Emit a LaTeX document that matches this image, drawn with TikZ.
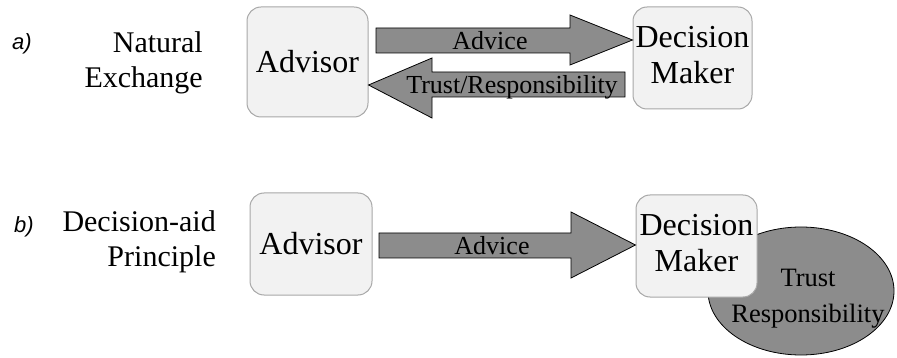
\documentclass[tikz,border=0pt]{standalone}
\usepackage{fontspec}
\setmainfont{Liberation Serif}
\newfontfamily\serf{Liberation Serif}
\newfontfamily\labfont{Liberation Sans}
\usetikzlibrary{calc,shapes.geometric}
\definecolor{boxfill}{HTML}{F2F2F2}
\definecolor{boxline}{HTML}{A8A8A8}
\definecolor{arrfill}{HTML}{8C8C8C}
\newcommand{\dbl}[3]{\scalebox{2}{\serf\fontsize{#1}{#2}\selectfont\begin{tabular}{@{}c@{}}#3\end{tabular}}}
\newcommand{\one}[2]{\scalebox{2}{\serf\fontsize{#1}{#1}\selectfont #2}}
\tikzset{
  agent/.style={draw=boxline, line width=1pt, fill=boxfill, rounded corners=14pt, inner sep=0pt, align=center},
  blockarrow/.style={draw=black, line width=0.8pt, fill=arrfill},
  plain/.style={inner sep=0pt},
  sidelabel/.style={inner sep=0pt, anchor=base east},
  partlabel/.style={font=\labfont\itshape, inner sep=0pt}
}
\begin{document}
\begin{tikzpicture}[x=1pt,y=-1pt]
\useasboundingbox (0,0) rectangle (897,358);
% ---- a) ----
\node[partlabel] (pa) at (22,44) {\scalebox{2}{\fontsize{11}{13}\selectfont a)}};
\node[sidelabel] (na1) at (203,53) {\one{15}{Natural}};
\node[sidelabel] (na2) at (203,88) {\one{15}{Exchange}};
\node[agent, minimum width=121pt, minimum height=110pt] (adv1) at (307.5,62) {\one{16}{Advisor}};
\node[agent, minimum width=119pt, minimum height=102pt] (dm1) at (692.5,58) {\dbl{16}{18}{Decision\\Maker}};
\draw[blockarrow] (376,28) -- (570,28) -- (570,15) -- (dm1.west |- 0,40) -- (570,65) -- (570,53) -- (376,53) -- cycle;
\node[plain] (advtxt1) at (490,41) {\one{13}{Advice}};
\draw[blockarrow] (625,72) -- (432,72) -- (432,58) -- (adv1.east |- 0,85) -- (432,118) -- (432,97) -- (625,97) -- cycle;
\node[plain] (trtxt) at (512,87) {\one{13}{Trust/Responsibility}};
% ---- b) ----
\node[partlabel] (pb) at (24,227) {\scalebox{2}{\fontsize{11}{13}\selectfont b)}};
\node[sidelabel] (nb1) at (216,232) {\one{15}{Decision-aid}};
\node[sidelabel] (nb2) at (216,266) {\one{15}{Principle}};
\node[draw=black, line width=0.8pt, fill=arrfill, ellipse, minimum width=186pt, minimum height=128pt] (resp) at (801,291) {};
\node[agent, minimum width=122pt, minimum height=102pt] (adv2) at (311,244) {\one{16}{Advisor}};
\node[agent, minimum width=121pt, minimum height=102pt] (dm2) at (696.5,246) {\dbl{16}{18}{Decision\\Maker}};
\draw[blockarrow] (379,233) -- (571,233) -- (571,212) -- (dm2.west |- 0,245) -- (571,278) -- (571,258) -- (379,258) -- cycle;
\node[plain] (advtxt2) at (492,246) {\one{13}{Advice}};
\node[plain] (trtxt2) at (808,297) {\dbl{13.25}{18}{Trust\\Responsibility}};
\end{tikzpicture}
\end{document}
